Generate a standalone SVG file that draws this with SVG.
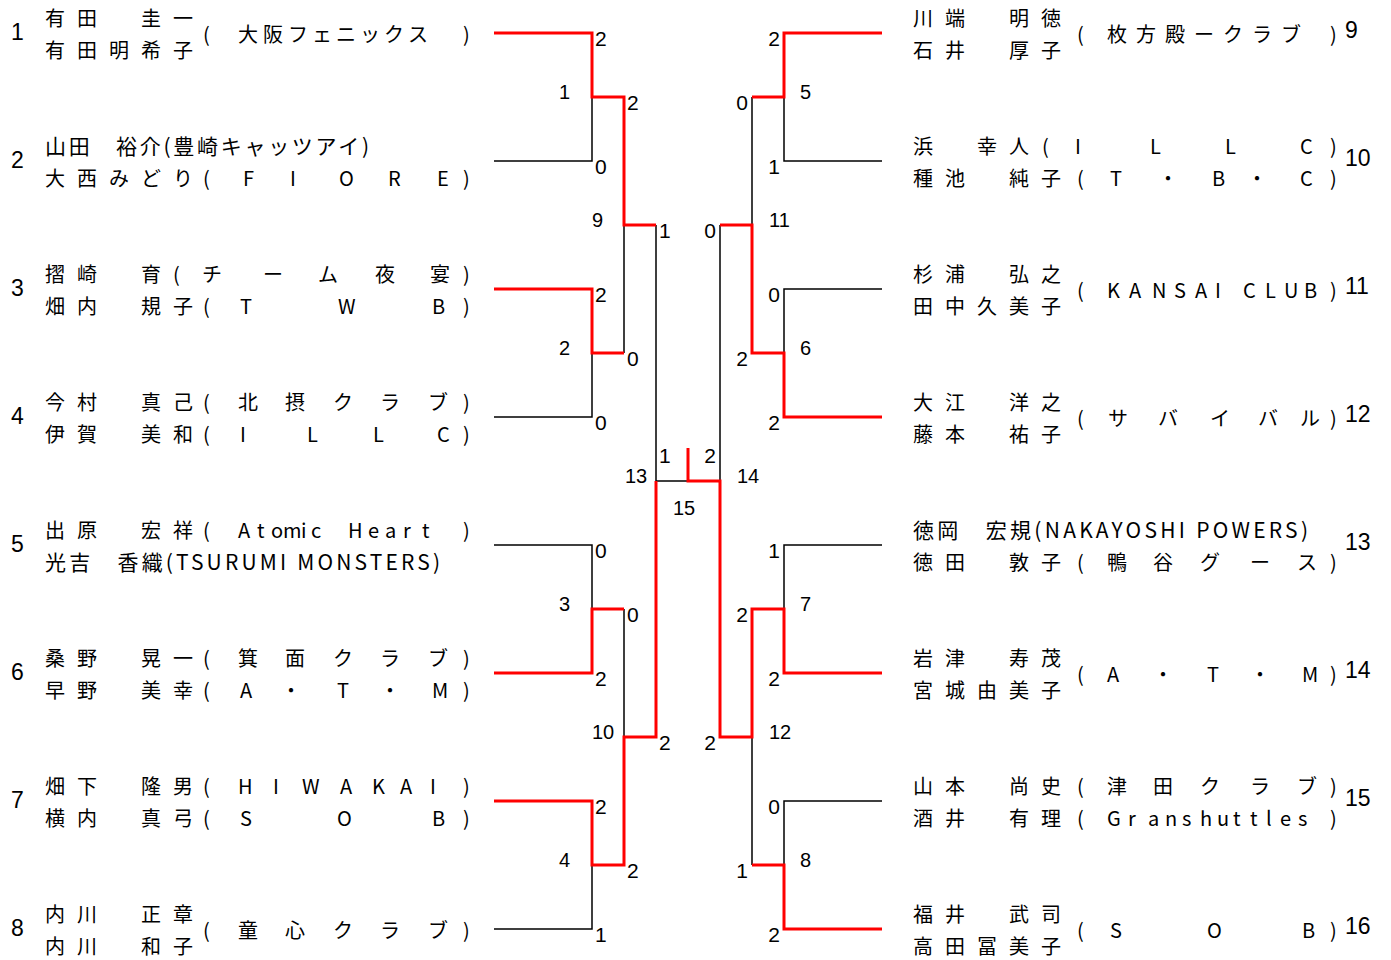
<svg xmlns="http://www.w3.org/2000/svg" width="1391" height="960" viewBox="0 0 1391 960">
<style>
.nm{font-family:"Noto Sans CJK JP","Liberation Sans",sans-serif;font-size:20px;fill:#000}
.nt{font-family:"Noto Sans CJK JP","Liberation Sans",sans-serif;font-size:21px;fill:#000}
.no{font-family:"Liberation Sans","Arial",sans-serif;font-size:23px;fill:#000}
.sc{font-family:"Liberation Sans","Arial",sans-serif;font-size:21px;fill:#000}
.mn{font-family:"Liberation Sans","Arial",sans-serif;font-size:20px;fill:#000}
.e{text-anchor:end}
.blk{stroke:#000;stroke-width:1.5;fill:none}
.red{stroke:#ff0000;stroke-width:3;fill:none;stroke-linejoin:miter}
</style>
<rect width="1391" height="960" fill="#fff"/>
<g id="connectors">
<path class="blk" d="M494 33H592V161H494M592 97H624M494 289H592V417H494M592 353H624M494 545H592V673H494M592 609H624M494 801H592V929H494M592 865H624M624 97V353M624 225H656M624 609V865M624 737H656M656 225V737M656 481H688"/>
<path class="blk" d="M882 33H784V161H882M784 97H752M882 289H784V417H882M784 353H752M882 545H784V673H882M784 609H752M882 801H784V929H882M784 865H752M752 97V353M752 225H720M752 609V865M752 737H720M720 225V737M720 481H688"/>
<path class="red" d="M494 33H592V97H624V225H656M494 289H592V353H624M494 673H592V609H624M494 801H592V865H624V737H656V481"/>
<path class="red" d="M882 33H784V97H752M882 417H784V353H752V225H720M882 673H784V609H752V737H720V481H688V448M882 929H784V865H752"/>
</g>
<g id="scores">
<text class="sc" x="595" y="46">2</text><text class="sc" x="595" y="174">0</text>
<text class="sc" x="595" y="302">2</text><text class="sc" x="595" y="430">0</text>
<text class="sc" x="595" y="558">0</text><text class="sc" x="595" y="686">2</text>
<text class="sc" x="595" y="814">2</text><text class="sc" x="595" y="942">1</text>
<text class="sc" x="627" y="110">2</text><text class="sc" x="627" y="366">0</text>
<text class="sc" x="627" y="622">0</text><text class="sc" x="627" y="878">2</text>
<text class="sc" x="659" y="238">1</text><text class="sc" x="659" y="750">2</text>
<text class="sc" x="659" y="463">1</text><text class="sc e" x="716" y="463">2</text>
<text class="sc e" x="716" y="238">0</text><text class="sc e" x="716" y="750">2</text>
<text class="sc e" x="748" y="110">0</text><text class="sc e" x="748" y="366">2</text>
<text class="sc e" x="748" y="622">2</text><text class="sc e" x="748" y="878">1</text>
<text class="sc e" x="780" y="46">2</text><text class="sc e" x="780" y="174">1</text>
<text class="sc e" x="780" y="302">0</text><text class="sc e" x="780" y="430">2</text>
<text class="sc e" x="780" y="558">1</text><text class="sc e" x="780" y="686">2</text>
<text class="sc e" x="780" y="814">0</text><text class="sc e" x="780" y="942">2</text>
</g>
<g id="match-numbers">
<text class="mn" x="559" y="99">1</text><text class="mn" x="559" y="355">2</text>
<text class="mn" x="559" y="611">3</text><text class="mn" x="559" y="867">4</text>
<text class="mn" x="592" y="227">9</text><text class="mn" x="592" y="739">10</text>
<text class="mn" x="625" y="483">13</text><text class="mn" x="673" y="515">15</text>
<text class="mn" x="737" y="483">14</text>
<text class="mn" x="769" y="227">11</text><text class="mn" x="769" y="739">12</text>
<text class="mn" x="800" y="99">5</text><text class="mn" x="800" y="355">6</text>
<text class="mn" x="800" y="611">7</text><text class="mn" x="800" y="867">8</text>
</g>
<g id="entry1">
<text class="no" x="11" y="40">1</text>
<text class="nm" x="45 77 141 173" y="26">有田圭一</text>
<text class="nm" x="45 77 109 141 173" y="58">有田明希子</text>
<text class="nm" x="203 238 263 288 312 336 360 384 408 463" y="42">(大阪フェニックス)</text>
</g>
<g id="entry2">
<text class="no" x="11" y="168">2</text>
<text class="nt" x="45" y="154" textLength="324" lengthAdjust="spacing">山田　裕介(豊崎キャッツアイ)</text>
<text class="nm" x="45 77 109 141 173 203 243 290 339 388 437 463" y="186">大西みどり(FIORE)</text>
</g>
<g id="entry3">
<text class="no" x="11" y="296">3</text>
<text class="nm" x="45 77 141 173 202 263 318 375 430 463" y="282">摺崎育(チーム夜宴)</text>
<text class="nm" x="45 77 141 173 203 240 338 432 463" y="314">畑内規子(TWB)</text>
</g>
<g id="entry4">
<text class="no" x="11" y="424">4</text>
<text class="nm" x="45 77 141 173 203 238 285 333 380 428 463" y="410">今村真己(北摂クラブ)</text>
<text class="nm" x="45 77 141 173 203 240 307 373 437 463" y="442">伊賀美和(ILLC)</text>
</g>
<g id="entry5">
<text class="no" x="11" y="552">5</text>
<text class="nm" x="45 77 141 173 203 238 257 271 283 301 311 348 368 385 403 422 463" y="538">出原宏祥(AtomicHeart)</text>
<text class="nt" x="45" y="570" textLength="395" lengthAdjust="spacing">光吉　香織(TSURUMI MONSTERS)</text>
</g>
<g id="entry6">
<text class="no" x="11" y="680">6</text>
<text class="nm" x="45 77 141 173 203 238 285 333 380 428 463" y="666">桑野晃一(箕面クラブ)</text>
<text class="nm" x="45 77 141 173 203 240 281 337 380 432 463" y="698">早野美幸(A・T・M)</text>
</g>
<g id="entry7">
<text class="no" x="11" y="808">7</text>
<text class="nm" x="45 77 141 173 203 238 273 302 340 372 400 430 463" y="794">畑下隆男(HIWAKAI)</text>
<text class="nm" x="45 77 141 173 203 240 337 432 463" y="826">横内真弓(SOB)</text>
</g>
<g id="entry8">
<text class="no" x="11" y="936">8</text>
<text class="nm" x="45 77 141 173" y="922">内川正章</text>
<text class="nm" x="45 77 141 173" y="954">内川和子</text>
<text class="nm" x="203 238 285 333 380 428 463" y="938">(童心クラブ)</text>
</g>
<g id="entry9">
<text class="no" x="1345" y="38">9</text>
<text class="nm" x="913 945 1009 1041" y="26">川端明徳</text>
<text class="nm" x="913 945 1009 1041" y="58">石井厚子</text>
<text class="nm" x="1077 1107 1136 1165 1194 1223 1252 1281 1330" y="42">(枚方殿ークラブ)</text>
</g>
<g id="entry10">
<text class="no" x="1345" y="166">10</text>
<text class="nm" x="913 977 1009 1042 1075 1150 1225 1300 1330" y="154">浜幸人(ILLC)</text>
<text class="nm" x="913 945 1009 1041 1077 1110 1158 1212 1247 1300 1330" y="186">種池純子(T・B・C)</text>
</g>
<g id="entry11">
<text class="no" x="1345" y="294">11</text>
<text class="nm" x="913 945 1009 1041" y="282">杉浦弘之</text>
<text class="nm" x="913 945 977 1009 1041" y="314">田中久美子</text>
<text class="nm" x="1077 1107 1129 1152 1174 1195 1215 1243 1265 1284 1304 1330" y="298">(KANSAICLUB)</text>
</g>
<g id="entry12">
<text class="no" x="1345" y="422">12</text>
<text class="nm" x="913 945 1009 1041" y="410">大江洋之</text>
<text class="nm" x="913 945 1009 1041" y="442">藤本祐子</text>
<text class="nm" x="1077 1108 1158 1210 1258 1300 1330" y="426">(サバイバル)</text>
</g>
<g id="entry13">
<text class="no" x="1345" y="550">13</text>
<text class="nt" x="913" y="538" textLength="395" lengthAdjust="spacing">徳岡　宏規(NAKAYOSHI POWERS)</text>
<text class="nm" x="913 945 1009 1041 1077 1107 1153 1200 1250 1297 1330" y="570">徳田敦子(鴨谷グース)</text>
</g>
<g id="entry14">
<text class="no" x="1345" y="678">14</text>
<text class="nm" x="913 945 1009 1041" y="666">岩津寿茂</text>
<text class="nm" x="913 945 977 1009 1041" y="698">宮城由美子</text>
<text class="nm" x="1077 1107 1153 1207 1250 1302 1330" y="682">(A・T・M)</text>
</g>
<g id="entry15">
<text class="no" x="1345" y="806">15</text>
<text class="nm" x="913 945 1009 1041 1077 1107 1153 1200 1250 1297 1330" y="794">山本尚史(津田クラブ)</text>
<text class="nm" x="913 945 1009 1041 1077 1107 1128 1148 1165 1182 1200 1217 1233 1250 1266 1280 1298 1330" y="826">酒井有理(Granshuttles)</text>
</g>
<g id="entry16">
<text class="no" x="1345" y="934">16</text>
<text class="nm" x="913 945 1009 1041" y="922">福井武司</text>
<text class="nm" x="913 945 977 1009 1041" y="954">高田冨美子</text>
<text class="nm" x="1077 1110 1207 1302 1330" y="938">(SOB)</text>
</g>
</svg>
